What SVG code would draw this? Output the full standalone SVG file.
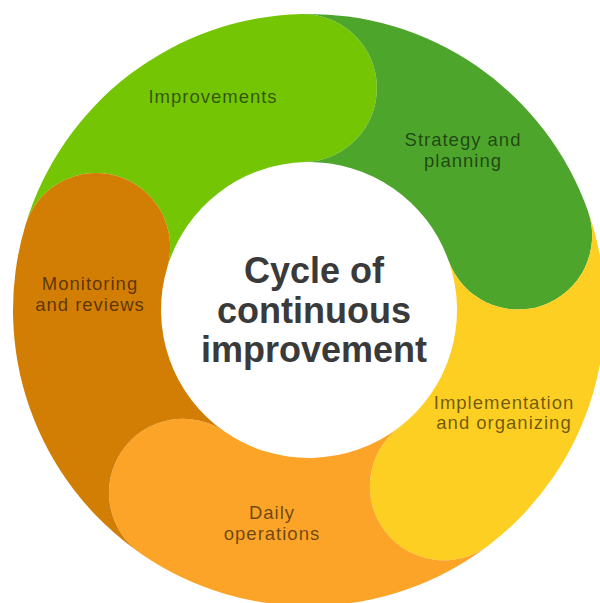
<svg xmlns="http://www.w3.org/2000/svg" width="600" height="603" viewBox="0 0 600 603">
<style>
.lbl{font-family:"Liberation Sans","Noto Sans",Arial,sans-serif;font-size:18.5px;letter-spacing:1px;text-anchor:middle;fill:#000;fill-opacity:0.58}
.title{font-family:"Liberation Sans","Noto Sans",Arial,sans-serif;font-size:36px;font-weight:bold;text-anchor:middle;fill:#3a3a3a}
</style>
<rect width="600" height="603" fill="#ffffff"/>
<g id="connectors"></g>
<g id="improvements">
<path fill="#74C605" d="M25.34,225.44 A296,296 0 0 1 301.77,14.09 A74,74 0 0 1 305.38,162.04 A148,148 0 0 0 167.17,267.72 A74,74 0 0 0 25.34,225.44 Z"/>
<text class="lbl" x="213" y="103">Improvements</text>
</g>
<g id="strategy">
<path fill="#4DA52C" d="M301.77,14.09 A296,296 0 0 1 588.19,211.68 A74,74 0 0 1 448.60,260.84 A148,148 0 0 0 305.38,162.04 A74,74 0 0 0 301.77,14.09 Z"/>
<text class="lbl" x="463" y="146">Strategy and</text>
<text class="lbl" x="463" y="167">planning</text>
</g>
<g id="implementation">
<path fill="#FDCF22" d="M588.19,211.68 A296,296 0 0 1 488.78,545.15 A74,74 0 0 1 398.89,427.57 A148,148 0 0 0 448.60,260.84 A74,74 0 0 0 588.19,211.68 Z"/>
<text class="lbl" x="504" y="409">Implementation</text>
<text class="lbl" x="504" y="429">and organizing</text>
</g>
<g id="daily">
<path fill="#FBA427" d="M488.78,545.15 A296,296 0 0 1 140.92,553.65 A74,74 0 0 1 224.96,431.82 A148,148 0 0 0 398.89,427.57 A74,74 0 0 0 488.78,545.15 Z"/>
<text class="lbl" x="272" y="519">Daily</text>
<text class="lbl" x="272" y="540">operations</text>
</g>
<g id="monitoring">
<path fill="#D27D03" d="M140.92,553.65 A296,296 0 0 1 25.34,225.44 A74,74 0 0 1 167.17,267.72 A148,148 0 0 0 224.96,431.82 A74,74 0 0 0 140.92,553.65 Z"/>
<text class="lbl" x="90" y="290">Monitoring</text>
<text class="lbl" x="90" y="311">and reviews</text>
</g>
<g id="center">
<text class="title" x="314" y="283">Cycle of</text>
<text class="title" x="314" y="323">continuous</text>
<text class="title" x="314" y="362">improvement</text>
</g>
</svg>
